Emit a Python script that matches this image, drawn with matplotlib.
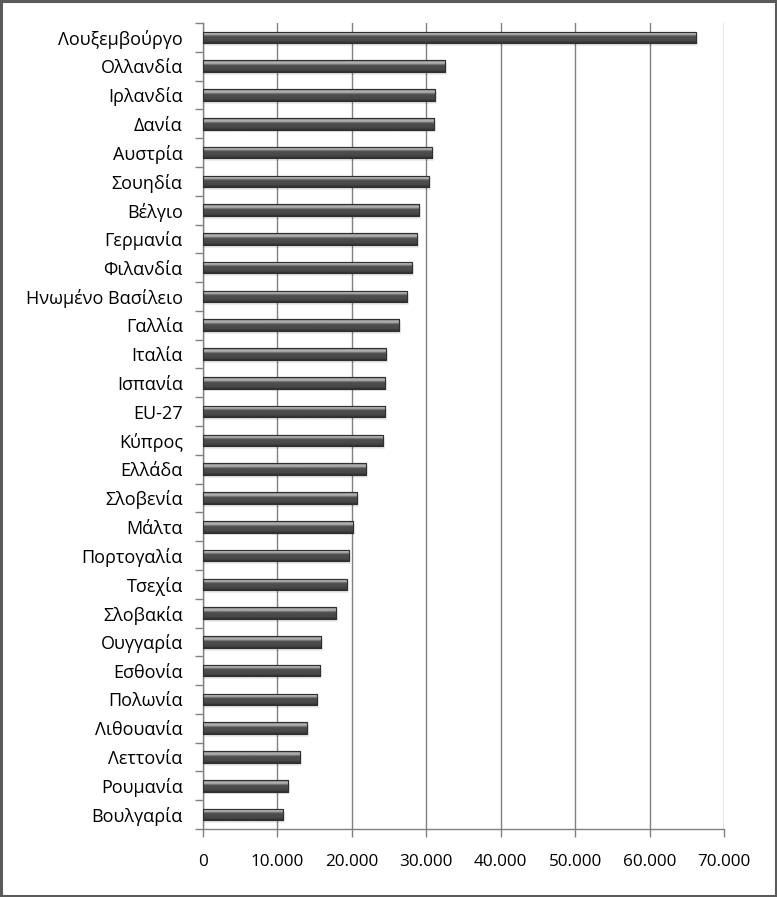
import matplotlib
matplotlib.use("Agg")
import matplotlib.pyplot as plt
import numpy as np
from matplotlib.patches import Rectangle
from matplotlib.ticker import FuncFormatter, FixedLocator

plt.rcParams['font.family'] = ['Open Sans', 'DejaVu Sans']

countries = ["Λουξεμβούργο", "Ολλανδία", "Ιρλανδία", "Δανία", "Αυστρία", "Σουηδία",
             "Βέλγιο", "Γερμανία", "Φιλανδία", "Ηνωμένο Βασίλειο", "Γαλλία", "Ιταλία",
             "Ισπανία", "EU-27", "Κύπρος", "Ελλάδα", "Σλοβενία", "Μάλτα", "Πορτογαλία",
             "Τσεχία", "Σλοβακία", "Ουγγαρία", "Εσθονία", "Πολωνία", "Λιθουανία",
             "Λεττονία", "Ρουμανία", "Βουλγαρία"]
values = [66300, 32500, 31200, 31000, 30800, 30400, 29000, 28800, 28100, 27400,
          26300, 24600, 24450, 24450, 24200, 21900, 20700, 20200, 19600, 19350,
          17900, 15900, 15700, 15300, 14000, 13000, 11400, 10800]
x_ticks = [0, 10000, 20000, 30000, 40000, 50000, 60000, 70000]

fig = plt.figure(figsize=(7.77, 8.97), dpi=100)
ax = fig.add_axes([203/777, 1-829/897, (724-203)/777, (829-23)/897])

n = len(countries)
ypos = np.arange(n)[::-1]
bh = 0.40

# vertical gradient for the bar (top -> bottom)
grad = np.array([0.52, 0.60, 0.68, 0.64, 0.45, 0.33, 0.30, 0.30, 0.29, 0.28, 0.25, 0.20]).reshape(-1, 1)

bars = ax.barh(ypos, values, height=bh, color='#4a4a4a', edgecolor='#333333',
               linewidth=0.8, zorder=3)
for b in bars:
    x0, y0 = b.get_x(), b.get_y()
    w, h = b.get_width(), b.get_height()
    # soft shadow
    ax.add_patch(Rectangle((x0, y0 - 0.10), w + 250, h, facecolor='#000000', alpha=0.07,
                           edgecolor='none', zorder=2))
    im = ax.imshow(grad, cmap='gray', vmin=0, vmax=1, aspect='auto',
                   extent=(x0, x0 + w, y0, y0 + h), origin='upper', zorder=3.5,
                   interpolation='bilinear')
    im.set_clip_path(b)
    ax.add_patch(Rectangle((x0, y0), w, h, facecolor='none', edgecolor='#303030',
                           linewidth=0.8, zorder=4))

ax.set_xlim(0, 70000)
ax.set_ylim(-0.5, n - 0.5)
ax.set_xticks(x_ticks)
ax.xaxis.set_major_formatter(FuncFormatter(lambda v, p: '0' if v == 0 else f"{int(v):,}".replace(',', '.')))
ax.set_yticks(ypos)
ax.set_yticklabels(countries)
ax.yaxis.set_minor_locator(FixedLocator(np.arange(-0.5, n, 1.0)))

ax.tick_params(axis='y', which='major', length=0, pad=14.5, labelsize=13, colors='#000000')
ax.tick_params(axis='y', which='minor', length=6, width=1, color='#808080', direction='out')
ax.tick_params(axis='x', which='major', length=6, width=1, color='#808080', direction='out',
               pad=12, labelsize=12.3)

ax.grid(axis='x', color='#808080', linewidth=1, zorder=0)
ax.set_axisbelow(True)
for s in ['top', 'right']:
    ax.spines[s].set_visible(False)
for s in ['left', 'bottom']:
    ax.spines[s].set_color('#808080')
    ax.spines[s].set_linewidth(1)

fig.patches.append(Rectangle((0.0015, 0.0015), 0.997, 0.997, transform=fig.transFigure,
                             facecolor='none', edgecolor='#5a5a5a', linewidth=2.2))

fig.savefig('out.png', dpi=100)
